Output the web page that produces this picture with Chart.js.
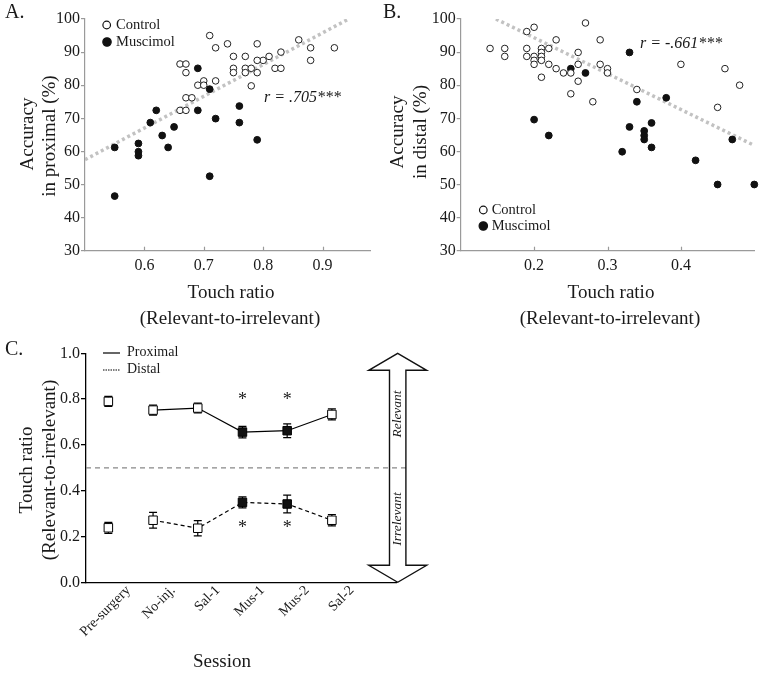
<!DOCTYPE html>
<html><head><meta charset="utf-8">
<script src="https://cdn.jsdelivr.net/npm/chart.js@4/dist/chart.umd.min.js"></script>
<style>
html,body{margin:0;padding:0;background:#fff;}
body{width:763px;height:673px;position:relative;overflow:hidden;}
canvas{position:absolute;}
</style></head><body>
<canvas id="cA" width="380" height="340" style="left:0;top:0"></canvas>
<canvas id="cB" width="383" height="340" style="left:380px;top:0"></canvas>
<canvas id="cC" width="470" height="333" style="left:0;top:340px"></canvas>
<script>
// ---------- Panel A data (proximal) ----------
const ctrlA_x = [0.71,0.72,0.74,0.79,0.86,0.88,0.92,0.83,0.81,0.80,0.79,0.88,0.75,0.77,0.66,0.67,0.67,0.75,0.75,0.77,0.77,0.78,0.79,0.82,0.83,0.70,0.69,0.70,0.72,0.78,0.67,0.68,0.66,0.67];
const ctrlA_y = [95,91.3,92.5,92.5,93.7,91.3,91.3,90,88.7,87.5,87.5,87.5,88.7,88.7,86.4,86.4,83.8,85.1,83.8,85.1,83.8,85.1,83.8,85.1,85.1,81.3,80,80,81.3,79.8,76.2,76.2,72.4,72.4];
const musA_x = [0.69,0.71,0.62,0.69,0.76,0.61,0.72,0.76,0.65,0.63,0.79,0.55,0.59,0.59,0.59,0.64,0.55,0.71];
const musA_y = [85.1,78.8,72.4,72.4,73.7,68.7,69.9,68.7,67.4,64.8,63.5,61.2,62.4,59.9,58.7,61.2,46.5,52.5];
const regA_x = [0.5, 0.944];
const regA_y = [57.5, 100];
const xTicksA = [0.6, 0.7, 0.8, 0.9];
const rTextA = 'r = .705***';

// ---------- Panel B data (distal) ----------
const ctrlB_x = [0.14,0.16,0.16,0.19,0.20,0.19,0.19,0.20,0.20,0.20,0.21,0.21,0.21,0.21,0.22,0.22,0.21,0.23,0.23,0.24,0.25,0.25,0.26,0.26,0.26,0.27,0.28,0.29,0.29,0.30,0.30,0.34,0.40,0.45,0.46,0.48];
const ctrlB_y = [91.1,91.1,88.7,96.2,97.5,91.1,88.7,88.7,87.5,86.3,91.1,89.9,88.7,87.5,91.1,86.3,82.4,93.7,85,83.7,83.7,77.4,89.9,86.3,81.2,98.8,75,93.7,86.3,85,83.7,78.7,86.3,73.3,85,80];
const musB_x = [0.20,0.22,0.25,0.27,0.33,0.34,0.33,0.35,0.35,0.35,0.36,0.38,0.32,0.36,0.42,0.47,0.45,0.50];
const musB_y = [69.6,64.8,85,83.7,89.9,75,67.4,66.2,64.8,63.6,68.6,76.2,59.9,61.2,57.3,63.6,50,50];
const regB_x = [0.148, 0.5];
const regB_y = [100, 61.8];
const xTicksB = [0.2, 0.3, 0.4];
const rTextB = 'r = -.661***';

const yTicksAB = [30,40,50,60,70,80,90,100];

// ---------- Panel C data ----------
const sessions = ['Pre-surgery','No-inj.','Sal-1','Mus-1','Mus-2','Sal-2'];
const proximal    = [0.790,0.752,0.761,0.656,0.662,0.733];
const proximalErr = [0.022,0.022,0.021,0.025,0.030,0.024];
const distal      = [0.238,0.271,0.236,0.349,0.342,0.271];
const distalErr   = [0.024,0.034,0.033,0.024,0.039,0.025];
const yTicksC = [0,0.2,0.4,0.6,0.8,1.0];
const chanceLevel = 0.5;
const sigIdx = [3,4];
const sigYTop = 0.814, sigYBot = 0.252;

// ---------- helpers ----------
const FAM = '"Liberation Serif","Times New Roman",serif';
const INK = '#1a1a1a';
function txt(ctx,s,x,y,o={}){
  const {size=16,style='',align='center',base='middle',rot=0,color=INK}=o;
  ctx.save(); ctx.translate(x,y); if(rot) ctx.rotate(rot);
  ctx.font=`${style} ${size}px ${FAM}`; ctx.textAlign=align; ctx.textBaseline=base; ctx.fillStyle=color;
  ctx.fillText(s,0,0); ctx.restore();
}
function circ(ctx,x,y,r,fill){
  ctx.beginPath(); ctx.arc(x,y,r,0,Math.PI*2);
  ctx.fillStyle=fill?'#111':'#fff'; ctx.fill();
  ctx.lineWidth=1.2; ctx.strokeStyle='#111'; ctx.stroke();
}
const pts=(xs,ys)=>xs.map((x,i)=>({x,y:ys[i]}));

function scatterConfig(p){
  return {
    type:'scatter',
    data:{datasets:[
      {label:'Control', data:pts(p.cx,p.cy), pointRadius:3.3, pointBackgroundColor:'#fff', pointBorderColor:'#222', pointBorderWidth:1, clip:false, order:1},
      {label:'Muscimol', data:pts(p.mx,p.my), pointRadius:3.4, pointBackgroundColor:'#111', pointBorderColor:'#111', pointBorderWidth:1, clip:false, order:1},
      {label:'fit', type:'line', data:pts(p.rx,p.ry), borderColor:'#c2c2c2', borderWidth:3.5, borderDash:[3,3], pointRadius:0, order:5}
    ]},
    options:{
      responsive:false, animation:false, events:[],
      layout:{padding:{top:19,right:p.padRight,left:0,bottom:0}},
      plugins:{legend:{display:false},tooltip:{enabled:false}},
      scales:{
        x:{type:'linear',min:p.xmin,max:p.xmax,
           afterBuildTicks:s=>{s.ticks=p.xt.map(v=>({value:v}));},
           ticks:{callback:v=>v.toFixed(1),font:{size:16,family:FAM},color:INK,padding:5,maxRotation:0},
           grid:{display:false,drawTicks:false},border:{color:'#9a9a9a',width:1.2},
           afterFit:s=>{s.height=89.3;}},
        y:{min:30,max:100,
           afterBuildTicks:s=>{s.ticks=yTicksAB.map(v=>({value:v}));},
           ticks:{font:{size:16,family:FAM},color:INK,padding:1},
           grid:{drawOnChartArea:false,drawTicks:true,tickLength:4,color:'#9a9a9a',lineWidth:1.2},
           border:{color:'#9a9a9a',width:1.2},
           afterFit:s=>{s.width=p.yw;}}
      }
    },
    plugins:[{id:'annot',afterDraw(chart){
      const ctx=chart.ctx, xs=chart.scales.x, ca=chart.chartArea;
      ctx.save();
      ctx.strokeStyle='#9a9a9a'; ctx.lineWidth=1.2;
      p.xt.forEach(v=>{const px=Math.round(xs.getPixelForValue(v))+0.5; ctx.beginPath(); ctx.moveTo(px,ca.bottom); ctx.lineTo(px,ca.bottom-4); ctx.stroke();});
      p.extra(ctx,chart);
      ctx.restore();
    }}]
  };
}

new Chart(document.getElementById('cA'), scatterConfig({
  cx:ctrlA_x,cy:ctrlA_y,mx:musA_x,my:musA_y,rx:regA_x,ry:regA_y,xt:xTicksA,
  xmin:0.5,xmax:0.98,padRight:10,yw:85,
  extra:(ctx,chart)=>{
    txt(ctx,'A.',5,13,{size:20,align:'left'});
    circ(ctx,106.7,25,3.8,false); txt(ctx,'Control',116,25,{size:14.5,align:'left'});
    circ(ctx,107,42,4.2,true); txt(ctx,'Muscimol',116,42,{size:14.5,align:'left'});
    txt(ctx,rTextA,264,98,{size:16,style:'italic',align:'left'});
    txt(ctx,'Accuracy',28,134,{size:19,rot:-Math.PI/2});
    txt(ctx,'in proximal (%)',50,136,{size:19,rot:-Math.PI/2});
    txt(ctx,'Touch ratio',231,293,{size:19});
    txt(ctx,'(Relevant-to-irrelevant)',230,319,{size:19});
  }
}));

new Chart(document.getElementById('cB'), scatterConfig({
  cx:ctrlB_x,cy:ctrlB_y,mx:musB_x,my:musB_y,rx:regB_x,ry:regB_y,xt:xTicksB,
  xmin:0.1,xmax:0.5,padRight:8.7,yw:80.7,
  extra:(ctx,chart)=>{
    txt(ctx,'B.',3,13,{size:20,align:'left'});
    circ(ctx,103.3,210,3.8,false); txt(ctx,'Control',111.7,210,{size:14.5,align:'left'});
    circ(ctx,103.3,226,4.2,true); txt(ctx,'Muscimol',111.7,226,{size:14.5,align:'left'});
    txt(ctx,rTextB,260,44,{size:16,style:'italic',align:'left'});
    txt(ctx,'Accuracy',18,132,{size:19,rot:-Math.PI/2});
    txt(ctx,'in distal (%)',41,132,{size:19,rot:-Math.PI/2});
    txt(ctx,'Touch ratio',231,293,{size:19});
    txt(ctx,'(Relevant-to-irrelevant)',230,319,{size:19});
  }
}));

// ---------- Panel C ----------
const fillFor = c => sessions[c.dataIndex] && sessions[c.dataIndex].startsWith('Mus') ? '#111' : '#fff';
function lineDs(label, vals, errs, dash){
  return {label, data:vals.map((v,i)=>({x:i,y:v})), errs,
    borderColor:'#000', borderWidth:1.2, borderDash:dash,
    segment:{borderColor:c=>c.p0DataIndex===0?'rgba(0,0,0,0)':'#000'},
    pointStyle:'rect', pointRadius:6, pointBackgroundColor:fillFor, pointBorderColor:'#000', pointBorderWidth:1,
    tension:0, clip:false};
}
new Chart(document.getElementById('cC'), {
  type:'line',
  data:{datasets:[lineDs('Proximal',proximal,proximalErr,[]), lineDs('Distal',distal,distalErr,[4,3])]},
  options:{
    responsive:false, animation:false, events:[],
    layout:{padding:{top:13.3,right:73.3,left:0,bottom:0}},
    plugins:{legend:{display:false},tooltip:{enabled:false}},
    scales:{
      x:{type:'linear',min:-0.5,max:6.45,
         afterBuildTicks:s=>{s.ticks=sessions.map((_,i)=>({value:i}));},
         ticks:{callback:v=>sessions[v],minRotation:45,maxRotation:45,font:{size:14,family:FAM},color:INK,padding:0,labelOffset:20},
         grid:{display:false,drawTicks:false},border:{color:'#000',width:1.3},
         afterFit:s=>{s.height=90.7;}},
      y:{min:0,max:1.0,
         afterBuildTicks:s=>{s.ticks=yTicksC.map(v=>({value:v}));},
         ticks:{callback:v=>v.toFixed(1),font:{size:16,family:FAM},color:INK,padding:1},
         grid:{drawOnChartArea:false,drawTicks:true,tickLength:5,color:'#000',lineWidth:1.3},
         border:{color:'#000',width:1.3},
         afterFit:s=>{s.width=86;}}
    }
  },
  plugins:[{id:'errs',
    beforeDatasetsDraw(chart){
      const ctx=chart.ctx, xs=chart.scales.x, ys=chart.scales.y, ca=chart.chartArea;
      ctx.save();
      const yc=ys.getPixelForValue(chanceLevel);
      ctx.strokeStyle='#888'; ctx.lineWidth=1.2; ctx.setLineDash([5,4]);
      ctx.beginPath(); ctx.moveTo(ca.left,yc); ctx.lineTo(ca.right+9.5,yc); ctx.stroke();
      ctx.setLineDash([]);
      ctx.strokeStyle='#000'; ctx.lineWidth=1.2;
      chart.data.datasets.forEach(ds=>{
        ds.data.forEach((d,i)=>{
          const x=xs.getPixelForValue(d.x), y1=ys.getPixelForValue(d.y+ds.errs[i]), y2=ys.getPixelForValue(d.y-ds.errs[i]);
          ctx.beginPath(); ctx.moveTo(x,y1); ctx.lineTo(x,y2);
          ctx.moveTo(x-4,y1); ctx.lineTo(x+4,y1); ctx.moveTo(x-4,y2); ctx.lineTo(x+4,y2); ctx.stroke();
        });
      });
      ctx.restore();
    },
    afterDraw(chart){
      const ctx=chart.ctx, xs=chart.scales.x, ys=chart.scales.y, ca=chart.chartArea;
      ctx.save();
      txt(ctx,'C.',5,10,{size:20,align:'left'});
      ctx.strokeStyle='#000'; ctx.lineWidth=1.2;
      ctx.beginPath(); ctx.moveTo(103,13); ctx.lineTo(120,13); ctx.stroke();
      ctx.setLineDash([1.5,1]); ctx.lineWidth=1;
      ctx.beginPath(); ctx.moveTo(103,30); ctx.lineTo(120,30); ctx.stroke(); ctx.setLineDash([]);
      txt(ctx,'Proximal',127,12,{size:14,align:'left'});
      txt(ctx,'Distal',127,29,{size:14,align:'left'});
      sigIdx.forEach(i=>{
        const x=xs.getPixelForValue(i);
        txt(ctx,'*',x,ys.getPixelForValue(sigYTop)+4,{size:18});
        txt(ctx,'*',x,ys.getPixelForValue(sigYBot)+4,{size:18});
      });
      const cx=ca.right+1, top=ys.getPixelForValue(1.0), bot=ys.getPixelForValue(0), hh=17, hw=29, sw=8.2;
      ctx.strokeStyle='#111'; ctx.lineWidth=1.4; ctx.lineJoin='miter';
      ctx.beginPath();
      ctx.moveTo(cx,top); ctx.lineTo(cx+hw,top+hh); ctx.lineTo(cx+sw,top+hh); ctx.lineTo(cx+sw,bot-hh);
      ctx.lineTo(cx+hw,bot-hh); ctx.lineTo(cx,bot); ctx.lineTo(cx-hw,bot-hh); ctx.lineTo(cx-sw,bot-hh);
      ctx.lineTo(cx-sw,top+hh); ctx.lineTo(cx-hw,top+hh); ctx.closePath(); ctx.stroke();
      txt(ctx,'Relevant',cx,74,{size:13.5,style:'italic',rot:-Math.PI/2});
      txt(ctx,'Irrelevant',cx,179,{size:13.5,style:'italic',rot:-Math.PI/2});
      txt(ctx,'Touch ratio',27,130,{size:19,rot:-Math.PI/2});
      txt(ctx,'(Relevant-to-irrelevant)',50,130,{size:19,rot:-Math.PI/2});
      txt(ctx,'Session',222,322,{size:19});
      ctx.restore();
    }
  }]
});
</script>
</body></html>
